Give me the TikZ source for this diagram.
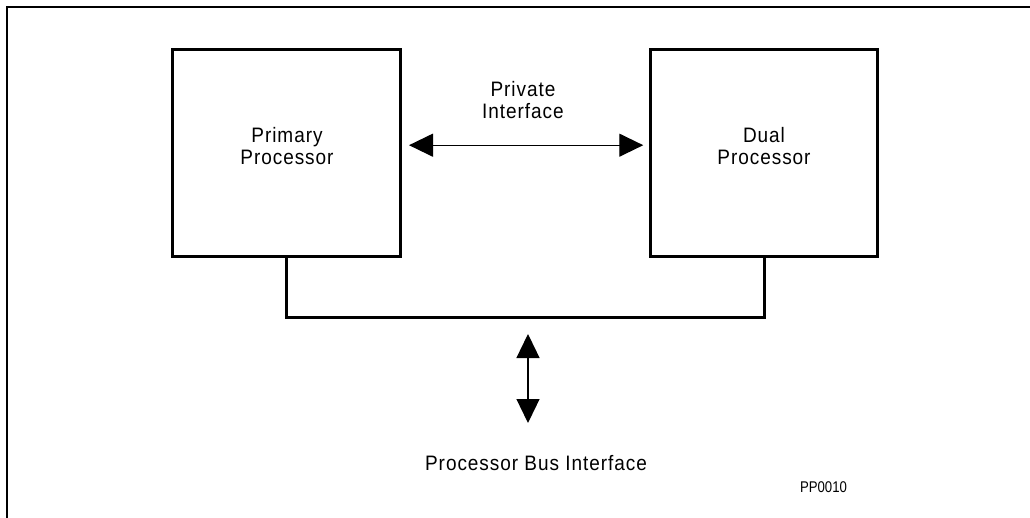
\documentclass[tikz,border=0pt]{standalone}
\usepackage{fontspec}
\usepackage{graphicx}
\setmainfont{Liberation Sans}
\newfontfamily\spacedfont{Liberation Sans}[LetterSpace=5]
\newcommand{\talltext}[1]{\scalebox{1}[1.1]{#1}}
\usetikzlibrary{arrows.meta}
\tikzset{
  frameline/.style={line width=1.7pt, line cap=rect},
  procbox/.style={draw, line width=3pt, minimum width=227.5pt, minimum height=206.7pt, inner sep=0pt, outer sep=0pt},
  boxtext/.style={align=center, font=\spacedfont\fontsize{19}{22.5}\selectfont, inner sep=0pt},
  busline/.style={line width=3pt},
  dblarrow/.style={line width=1.3pt, {Triangle[length=24pt,width=23pt]}-{Triangle[length=24pt,width=23pt]}}
}
\begin{document}
\begin{tikzpicture}[x=1pt,y=-1pt]
\useasboundingbox (0,0) rectangle (1030,518);
% frame (only top and left edges visible)
\coordinate (frameBL) at (6.8,518);
\coordinate (frameTL) at (6.8,6.8);
\coordinate (frameTR) at (1030,6.8);
\draw[frameline] (frameBL) -- (frameTL) -- (frameTR);
% processors
\node[procbox] (primary) at (286.25,153.2) {};
\node[procbox] (dual) at (764,153.2) {};
\node[boxtext] (primarytext) at (287,146) {\talltext{Primary}\\\talltext{Processor}};
\node[boxtext] (dualtext) at (764,146) {\talltext{Dual}\\\talltext{Processor}};
% private interface
\node[boxtext] (privtext) at (523,100) {\talltext{Private}\\\talltext{Interface}};
\draw[dblarrow] ([xshift=9pt,yshift=8pt]primary.east) -- ([xshift=-7pt,yshift=8pt]dual.west);
% bus
\draw[busline] (primary.south) -- ++(0,61) -| (dual.south);
% processor bus interface arrow
\coordinate (busup) at (528,334);
\coordinate (busdown) at (528,423);
\draw[dblarrow] (busup) -- (busdown);
\node[boxtext] (bustext) at (536,463.5) {\talltext{Processor Bus Interface}};
\node[inner sep=0pt, font=\fontsize{15.5}{18}\selectfont] (code) at (823.5,487) {\scalebox{0.85}[1]{PP0010}};
\end{tikzpicture}
\end{document}
